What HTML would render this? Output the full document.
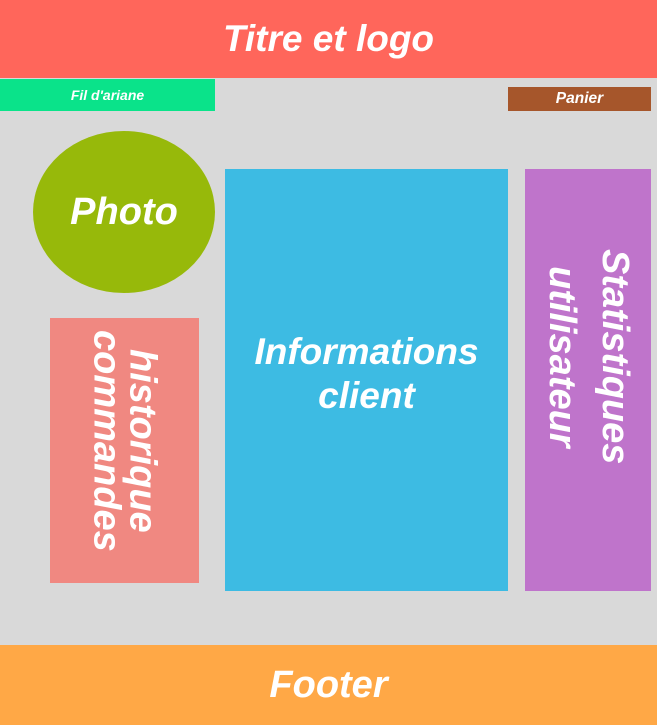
<!DOCTYPE html>
<html><head><meta charset="utf-8"><style>
html,body{margin:0;padding:0;}
body{width:657px;height:725px;background:#d9d9d9;position:relative;overflow:hidden;font-family:"Liberation Sans",sans-serif;font-weight:bold;font-style:italic;color:#fff;}
.b{position:absolute;display:flex;align-items:center;justify-content:center;text-align:center;}
.v{writing-mode:vertical-rl;}
</style></head><body>
<div class="b" style="left:0;top:0;width:657px;height:78px;background:#ff665b;font-size:37px;">Titre et logo</div>
<div class="b" style="left:0;top:79px;width:215px;height:32px;background:#0ae38a;font-size:14px;">Fil d'ariane</div>
<div class="b" style="left:508px;top:87px;width:143px;height:24px;background:#a6562b;font-size:15.5px;">Panier</div>
<div class="b" style="left:33px;top:131px;width:182px;height:162px;border-radius:50%;background:#97b90a;font-size:38px;">Photo</div>
<div class="b" style="left:225px;top:169px;width:283px;height:422px;background:#3dbbe3;font-size:37px;line-height:44px;padding-bottom:12px;box-sizing:border-box;">Informations<br>client</div>
<div class="b" style="left:525px;top:169px;width:126px;height:422px;background:#bf74cb;"><div class="v" style="font-size:38px;line-height:53px;margin-top:-46px;">Statistiques<br>utilisateur</div></div>
<div class="b" style="left:50px;top:318px;width:149px;height:265px;background:#f08881;"><div class="v" style="font-size:38px;line-height:36px;margin-top:-20px;">historique<br>commandes</div></div>
<div class="b" style="left:0;top:645px;width:657px;height:80px;background:#ffa846;font-size:38px;">Footer</div>
</body></html>
